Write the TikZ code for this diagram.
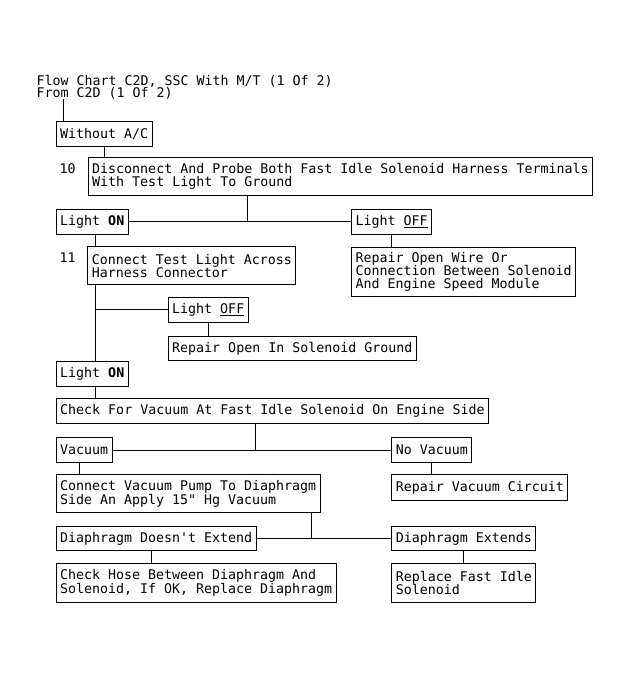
\documentclass[tikz,border=0pt]{standalone}
\usepackage{fontspec}
\setmonofont{DejaVu Sans Mono}
\begin{document}
\begin{tikzpicture}[x=1pt, y=-1pt, line width=1pt,
  fc/.style={draw, anchor=north west, align=left, inner xsep=4pt, inner ysep=0pt, minimum height=25pt, font=\ttfamily\fontsize{13.3}{13}\selectfont},
  tc/.style={anchor=base west, inner sep=0pt, font=\ttfamily\fontsize{13.3}{13}\selectfont}]
\useasboundingbox (0,0) rectangle (630,677);
\node[tc] (tid0) at (36,85.5){Flow Chart C2D, SSC With M/T (1 Of 2)};
\node[tc] (tid1) at (36,97.5){From C2D (1 Of 2)};
\coordinate (jid0) at (63,99);
\node[fc] (bid1) at (55.5,120.7){Without A/C};
\draw[](jid0) -- (jid0 |- bid1.north);
\node[tc] (nid10) at (59,173.5){10};
\node[fc, minimum height=37.7pt] (bid2) at (87.7,157.3){Disconnect And Probe Both Fast Idle Solenoid Harness Terminals\\With Test Light To Ground};
\draw[](bid1.south) -- (bid1.south |- bid2.north);
\node[fc] (bid3) at (55.7,208.5){Light \textbf{ON}};
\node[fc] (bid4) at (351,208.5){Light \underline{OFF}};
\coordinate (jid1) at (247.3,221);
\draw[](bid2.south -| jid1) -- (jid1);
\draw[](bid3.east) -- (bid4.west);
\node[fc, minimum height=49.3pt] (bid5) at (351,246.7){Repair Open Wire Or\\Connection Between Solenoid\\And Engine Speed Module};
\draw[](bid4.south) -- (bid4.south |- bid5.north);
\node[tc] (nid11) at (59,262.3){11};
\node[fc, minimum height=37.7pt] (bid6) at (87.3,246.3){Connect Test Light Across\\Harness Connector};
\coordinate (jid2) at (95,309.3);
\draw[](bid3.south -| jid2) -- (bid6.north -| jid2);
\node[fc] (bid7) at (167.7,296.7){Light \underline{OFF}};
\node[fc, minimum height=24.3pt] (bid8) at (167.7,335.7){Repair Open In Solenoid Ground};
\draw[](bid7.south) -- (bid7.south |- bid8.north);
\node[fc] (bid9) at (55.7,360.7){Light \textbf{ON}};
\draw[](bid6.south -| jid2) -- (bid9.north -| jid2);
\draw[](bid7.west -| jid2) -- (bid7.west);
\node[fc] (bid10) at (55.7,398.3){Check For Vacuum At Fast Idle Solenoid On Engine Side};
\draw[](bid9.south -| jid2) -- (bid10.north -| jid2);
\node[fc, minimum height=25.6pt] (bid11) at (55.5,436.7){Vacuum};
\node[fc, minimum height=25.6pt] (bid12) at (391.3,436.7){No Vacuum};
\coordinate (jid3) at (255.3,449.5);
\draw[](bid10.south -| jid3) -- (jid3);
\draw[](bid11.east) -- (bid12.west);
\node[fc, minimum height=37.7pt] (bid13) at (55.5,474.3){Connect Vacuum Pump To Diaphragm\\Side An Apply 15" Hg Vacuum};
\coordinate (jid4) at (79,469);
\draw[](bid11.south -| jid4) -- (bid13.north -| jid4);
\node[fc, minimum height=25.7pt] (bid14) at (391.3,474.3){Repair Vacuum Circuit};
\draw[](bid12.south) -- (bid12.south |- bid14.north);
\node[fc, minimum height=24pt] (bid15) at (55.5,526){Diaphragm Doesn't Extend};
\node[fc, minimum height=24pt] (bid16) at (391.3,526){Diaphragm Extends};
\coordinate (jid5) at (311.7,538);
\draw[](bid13.south -| jid5) -- (jid5);
\draw[](bid15.east) -- (bid16.west);
\node[fc, minimum height=38.4pt] (bid17) at (55.5,563.3){Check Hose Between Diaphragm And\\Solenoid, If OK, Replace Diaphragm};
\node[fc, minimum height=38.4pt] (bid18) at (391.3,563.3){Replace Fast Idle\\Solenoid};
\coordinate (jid6) at (151,556);
\draw[](bid15.south -| jid6) -- (bid17.north -| jid6);
\draw[](bid16.south) -- (bid16.south |- bid18.north);
\end{tikzpicture}
\end{document}
